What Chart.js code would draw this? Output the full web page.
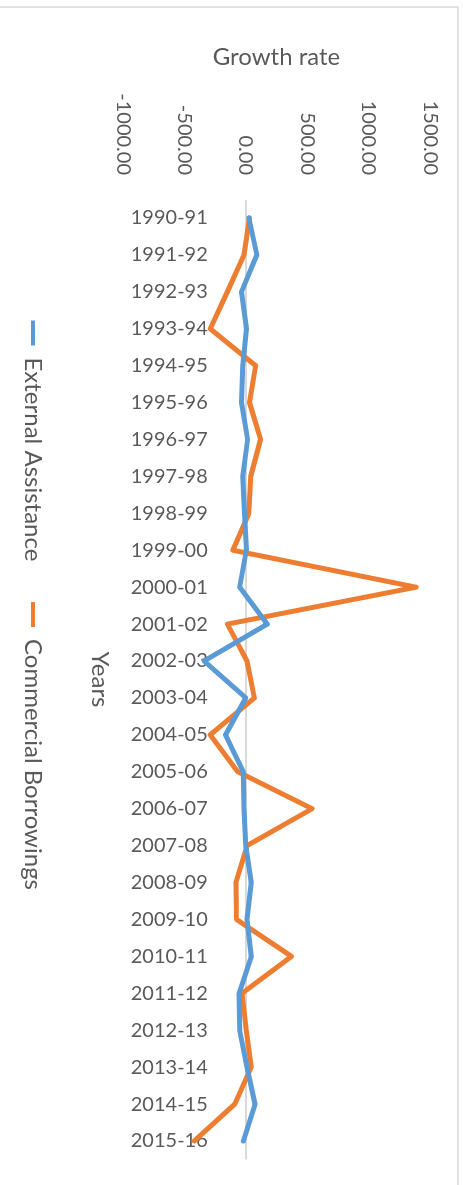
<!DOCTYPE html>
<html>
<head>
<meta charset="utf-8">
<script src="https://cdn.jsdelivr.net/npm/chart.js@4/dist/chart.umd.min.js"></script>
<style>
  html, body { margin: 0; padding: 0; background: #fff; overflow: hidden; }
  /* the chart is drawn lying on its side and turned a quarter clockwise */
  #wrap {
    position: absolute; left: 0; top: 0;
    width: 1185px; height: 463px;
    transform-origin: 0 0;
    transform: translateX(463px) rotate(90deg);
  }
</style>
</head>
<body>
<div id="wrap"><canvas id="chart" width="1185" height="463"></canvas></div>
<script>
// --- data ---
const years = ['1990-91','1991-92','1992-93','1993-94','1994-95','1995-96','1996-97','1997-98','1998-99','1999-00',
  '2000-01','2001-02','2002-03','2003-04','2004-05','2005-06','2006-07','2007-08','2008-09','2009-10',
  '2010-11','2011-12','2012-13','2013-14','2014-15','2015-16'];
const externalAssistance = [25, 90, -35, 5, -25, -35, 15, -25, -10, 5,
  -50, 175, -340, 0, -165, -20, -15, 0, 45, 10,
  45, -55, -50, 10, 75, -20];
const commercialBorrowings = [30, -15, -150, -290, 80, 30, 120, 40, 25, -105,
  1387, -150, 10, 70, -290, -65, 540, 10, -80, -75,
  372, -30, 3, 45, -90, -420];
const valueTicks = [-1000, -500, 0, 500, 1000, 1500];

const BLUE = '#5B9BD5';
const ORANGE = '#ED7D31';
const TEXT = '#595959';

Chart.defaults.font.family = 'Lato, "Open Sans", sans-serif';
Chart.defaults.color = TEXT;

// light frame of the chart box
const frame = {
  id: 'frame',
  beforeDraw(chart) {
    const ctx = chart.ctx;
    ctx.save();
    ctx.strokeStyle = '#d9d9d9';
    ctx.lineWidth = 1.5;
    ctx.strokeRect(7, 5, 2000, 2000);
    ctx.restore();
  }
};

// keep label overhang from shrinking the plot
function noPad(s) {
  s.paddingLeft = s.paddingRight = s.paddingTop = s.paddingBottom = 0;
}

new Chart(document.getElementById('chart'), {
  type: 'line',
  data: {
    labels: years,
    datasets: [
      { label: 'External Assistance', data: externalAssistance, borderColor: BLUE, backgroundColor: BLUE },
      { label: 'Commercial Borrowings', data: commercialBorrowings, borderColor: ORANGE, backgroundColor: ORANGE }
    ]
  },
  options: {
    responsive: false,
    animation: false,
    devicePixelRatio: 1,
    layout: { padding: { left: 51, right: 25.5, top: 33, bottom: 11 } },
    elements: {
      line: { borderWidth: 5, tension: 0, borderCapStyle: 'round', borderJoinStyle: 'round', fill: false },
      point: { radius: 0, hoverRadius: 0 }
    },
    plugins: {
      tooltip: { enabled: false },
      legend: {
        position: 'bottom',
        labels: {
          boxWidth: 25,
          boxHeight: 4,
          padding: 40.6,
          color: TEXT,
          font: { size: 24 },
          generateLabels: chart => Chart.defaults.plugins.legend.labels.generateLabels(chart)
            .map(item => ({ ...item, fillStyle: item.strokeStyle, lineWidth: 0 }))
        }
      }
    },
    scales: {
      // bottom axis only holds the "Years" title
      x: {
        offset: true,
        grid: { display: false },
        border: { display: false },
        ticks: { display: false },
        title: { display: true, text: 'Years', font: { size: 24 }, color: TEXT, padding: { top: 0, bottom: 0 } },
        afterFit: s => { s.height = 37.4; noPad(s); }
      },
      // year labels sit next to the zero line
      xLabels: {
        type: 'category',
        position: { y: 0 },
        offset: true,
        grid: { display: false },
        border: { display: false },
        ticks: { autoSkip: false, minRotation: 90, maxRotation: 90, padding: 30, font: { size: 20 }, color: TEXT },
        afterFit: noPad
      },
      y: {
        min: valueTicks[0],
        max: valueTicks[valueTicks.length - 1],
        border: { display: false },
        grid: {
          drawTicks: false,
          lineWidth: 2,
          color: c => (c.tick && c.tick.value === 0 ? '#d9d9d9' : 'rgba(0,0,0,0)')
        },
        ticks: {
          stepSize: 500,
          padding: 24.5,
          font: { size: 20 },
          color: TEXT,
          callback: v => Number(v).toFixed(2)
        },
        title: { display: true, text: 'Growth rate', font: { size: 24 }, color: TEXT, padding: { top: -8.4, bottom: 0 } },
        afterFit: s => { s.width = 148.5; noPad(s); }
      }
    }
  },
  plugins: [frame]
});
</script>
</body>
</html>
